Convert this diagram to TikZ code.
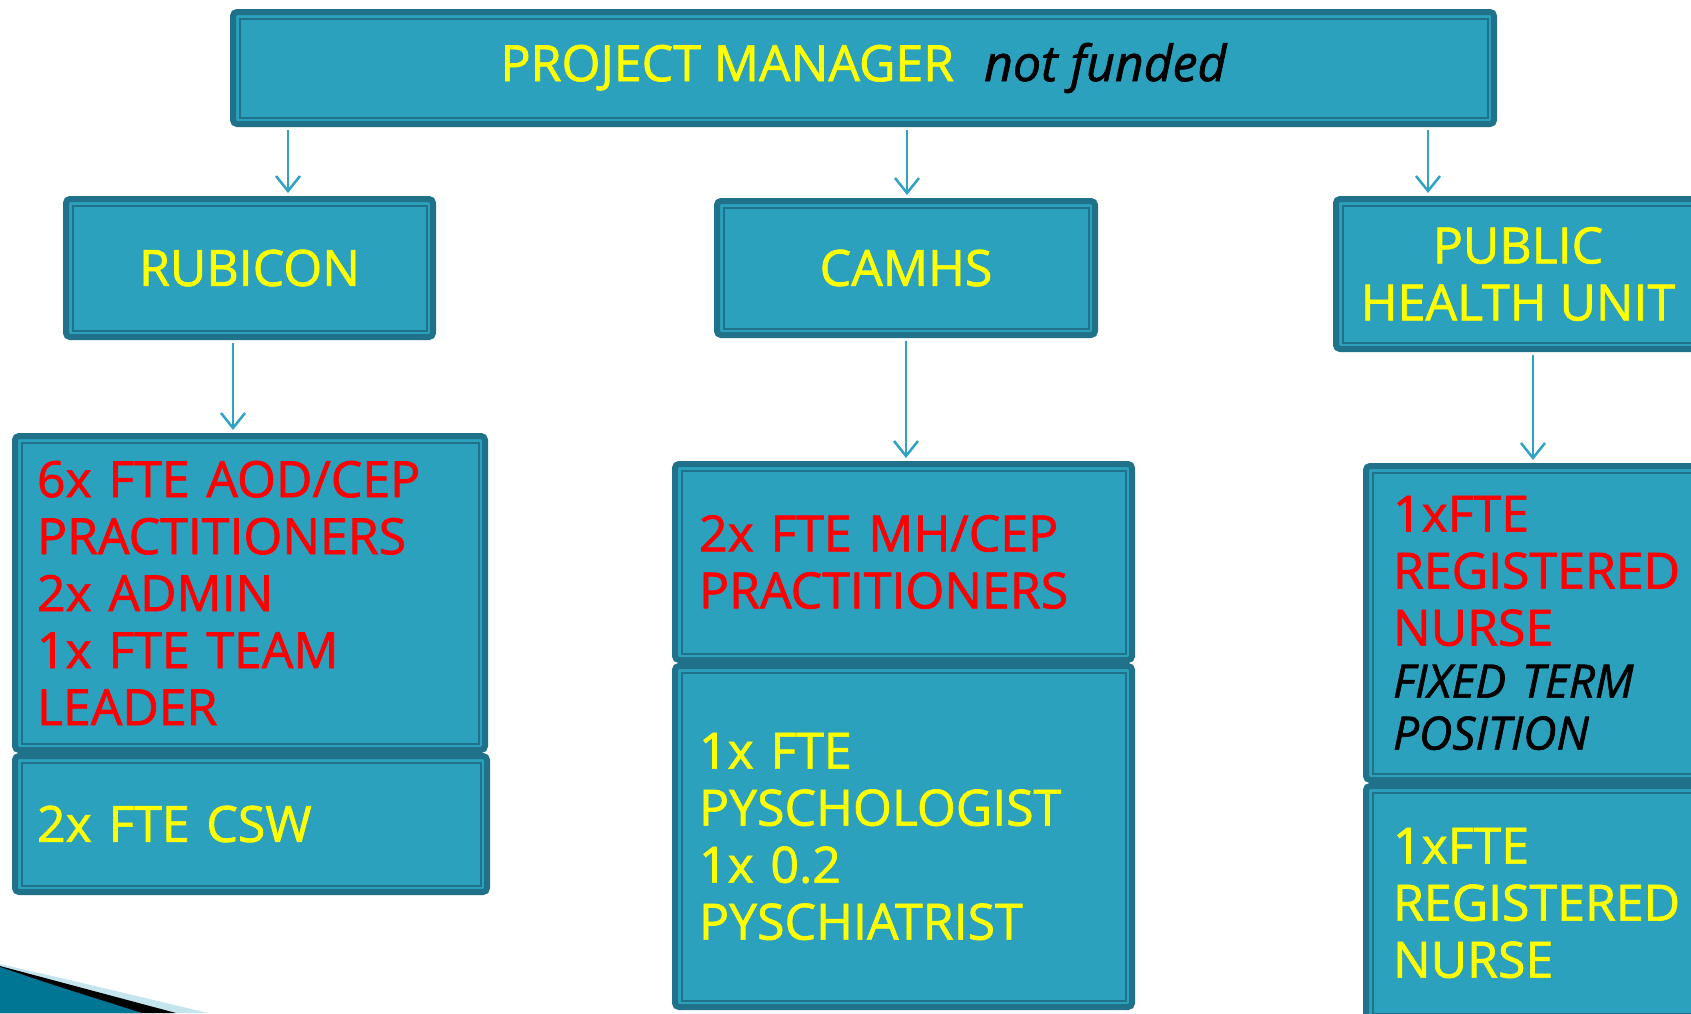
\documentclass[tikz,border=0pt]{standalone}
\usepackage{fontspec}
\setmainfont{Open Sans}[FakeBold=1.4]
\usetikzlibrary{arrows.meta}
\definecolor{boxfill}{RGB}{44,161,190}
\definecolor{boxedge}{RGB}{31,114,137}
\definecolor{linkcol}{RGB}{48,163,196}
\definecolor{wedge}{RGB}{0,118,148}
\definecolor{wedgelight}{RGB}{196,228,238}
\definecolor{hiyellow}{RGB}{255,255,0}
\tikzset{
  orgbox/.style={draw=boxedge, fill=boxfill, line width=6pt, rounded corners=4pt,
    inner xsep=#1, inner ysep=0pt, align=left,
    path picture={\draw[boxedge, line width=2pt, sharp corners]
      ([shift={(6.5pt,6.5pt)}]path picture bounding box.south west) rectangle
      ([shift={(-6.5pt,-6.5pt)}]path picture bounding box.north east);}},
  orgbox/.default=24pt,
  link/.style={linkcol, line width=2.5pt, shorten <=3pt, shorten >=3pt,
    -{Straight Barb[length=15pt,width=24pt]}},
  big/.style={font=\fontsize{50}{57}\selectfont}
}
\begin{document}
\begin{tikzpicture}[x=1pt,y=-1pt]
\useasboundingbox (0,0) rectangle (1691,1013);
\clip (0,0) rectangle (1691,1013);
% corner swoosh
\fill[wedgelight] (0,964) .. controls (70,980) .. (208,1013) -- (0,1013) -- cycle;
\fill[black] (0,966) .. controls (60,982) .. (176,1013) -- (0,1013) -- cycle;
\fill[wedge] (0,967) .. controls (50,984) .. (142,1013) -- (0,1013) -- cycle;

\node[orgbox, align=center, big, text=hiyellow, minimum width=1261pt, minimum height=112pt]
  (pm) at (863.5,68) {PROJECT MANAGER\hspace{30pt}{\itshape\color{black}not funded}};

\node[orgbox, align=center, big, text=hiyellow, minimum width=367pt, minimum height=138pt]
  (rubicon) at (249.5,268) {RUBICON};
\node[orgbox, align=center, big, text=hiyellow, minimum width=378pt, minimum height=134pt]
  (camhs) at (906,268) {CAMHS};
\node[orgbox, align=center, big, text=hiyellow, minimum width=364pt, minimum height=150pt]
  (phu) at (1518,274) {PUBLIC\\HEALTH UNIT};

\node[orgbox=22pt, big, text=red, text width=426pt, minimum height=314pt]
  (rub1) at (250,593) {6x FTE AOD/CEP\\PRACTITIONERS\\2x ADMIN\\1x FTE TEAM\\LEADER};
\node[orgbox=22pt, big, text=hiyellow, text width=428pt, minimum height=136pt]
  (rub2) at (251,824) {2x FTE CSW};

\node[orgbox=24pt, big, text=red, text width=409pt, minimum height=196pt]
  (cam1) at (903.5,562) {2x FTE MH/CEP\\PRACTITIONERS};
\node[orgbox=24pt, big, text=hiyellow, text width=409pt, minimum height=341pt]
  (cam2) at (903.5,836.5) {1x FTE\\PYSCHOLOGIST\\1x 0.2\\PYSCHIATRIST};

\node[orgbox=27pt, text width=300pt, minimum height=314pt]
  (phu1) at (1543,623) {{\fontsize{50}{57}\selectfont\color{red}1xFTE\\REGISTERED\\NURSE\par}%
  {\fontsize{46}{52}\selectfont\itshape FIXED\hspace{16pt}TERM\\POSITION\par}};
\node[orgbox=27pt, big, text=hiyellow, text width=300pt, minimum height=234pt]
  (phu2) at (1543,903) {1xFTE\\REGISTERED\\NURSE};

\draw[link] ([xshift=38.5pt]rubicon.north |- pm.south) -- ([xshift=38.5pt]rubicon.north);
\draw[link] ([xshift=1pt]camhs.north |- pm.south) -- ([xshift=1pt]camhs.north);
\draw[link] ([xshift=-90pt]phu.north |- pm.south) -- ([xshift=-90pt]phu.north);
\draw[link] ([xshift=-16.5pt]rubicon.south) -- ([xshift=-16.5pt]rubicon.south |- rub1.north);
\draw[link] (camhs.south) -- (camhs.south |- cam1.north);
\draw[link] ([xshift=15pt]phu.south) -- ([xshift=15pt]phu.south |- phu1.north);
\end{tikzpicture}
\end{document}
